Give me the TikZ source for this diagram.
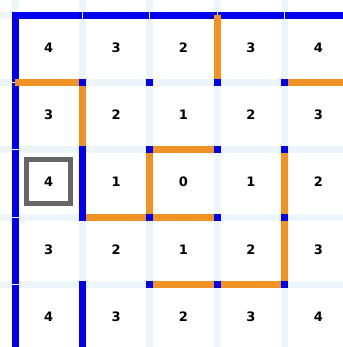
\documentclass[tikz,border=0pt]{standalone}
\usepackage{fontspec}
\setsansfont{DejaVu Sans}
\usepackage{tikz}
\definecolor{myblue}{RGB}{0,0,238}
\definecolor{myorange}{RGB}{240,146,36}
\definecolor{mygrid}{RGB}{236,244,252}
\definecolor{mygray}{RGB}{102,102,102}
\tikzset{
  gridline/.style={line width=7pt, color=mygrid},
  border/.style={line width=7pt, color=myblue, line cap=rect},
  bluewall/.style={line width=7pt, color=myblue},
  orangewall/.style={line width=7pt, color=myorange},
  tick/.style={line width=1pt, color=mygrid},
  post/.style={rectangle, fill=myblue, minimum size=7pt, inner sep=0pt},
  dist/.style={font=\sffamily\bfseries\fontsize{13}{14}\selectfont, inner sep=0pt},
  startbox/.style={rectangle, draw=mygray, line width=5pt, minimum size=44pt,
    inner sep=0pt}
}

\begin{document}
\begin{tikzpicture}[x=67.4pt, y=-67.2pt]
  \useasboundingbox (-0.2226,-0.2307) rectangle (4.866,4.933);
  % pale grid
  \foreach \i in {0,...,4} {
    \draw[gridline] (\i,-0.25) -- (\i,4.95);
    \draw[gridline] (-0.25,\i) -- (4.9,\i);
  }
  % outer walls
  \draw[border] (0,0) -- (4.9,0);
  \draw[border] (0,0) -- (0,4.95);
  \foreach \i in {1,...,4} {
    \draw[tick] (\i,-0.12) -- (\i,0.12);
    \draw[tick] (-0.12,\i) -- (0.12,\i);
  }
  % inner blue walls
  \draw[bluewall] (1,2) -- (1,3);
  \draw[bluewall] (1,4) -- (1,4.95);
  % orange walls
  \draw[orangewall] (0,1) -- (1,1);
  \draw[orangewall] (4,1) -- (4.9,1);
  \draw[orangewall] (1,1) -- (1,2);
  \draw[orangewall] (3,0) -- (3,1);
  \draw[orangewall] (2,2) -- (2,3) -- (3,3);
  \draw[orangewall] (2,2) -- (3,2);
  \draw[orangewall] (1,3) -- (2,3);
  \draw[orangewall] (4,2) -- (4,4) -- (2,4);
  % posts
  \foreach \x in {1,...,4}
    \foreach \y in {1,...,4}
      \node[post] (p-\x-\y) at (\x,\y) {};
  % distances
  \foreach \row/\vals in {0/{4,3,2,3,4}, 1/{3,2,1,2,3}, 2/{4,1,0,1,2},
                          3/{3,2,1,2,3}, 4/{4,3,2,3,4}} {
    \foreach \v [count=\col from 0] in \vals
      \node[dist] (n-\row-\col) at (\col+0.5,\row+0.48) {\v};
  }
  \node[startbox] (start) at (0.49,2.47) {};
\end{tikzpicture}
\end{document}
